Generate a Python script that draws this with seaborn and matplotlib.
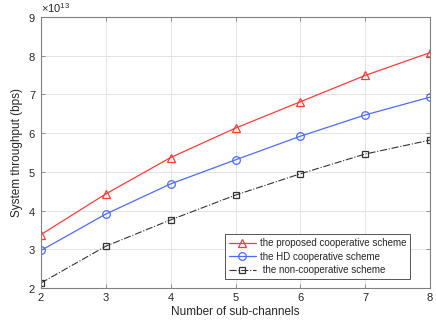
import matplotlib
matplotlib.use("Agg")
import matplotlib.pyplot as plt
import seaborn as sns
import numpy as np
from matplotlib.ticker import ScalarFormatter

sns.set_style("whitegrid")
plt.rcParams['font.family'] = ['Liberation Sans', 'DejaVu Sans']
plt.rcParams['mathtext.fontset'] = 'custom'
plt.rcParams['mathtext.rm'] = 'Liberation Sans'

# Data
sub_channels = [2, 3, 4, 5, 6, 7, 8]
proposed = [3.38e13, 4.43e13, 5.37e13, 6.13e13, 6.81e13, 7.49e13, 8.08e13]
hd_coop = [2.97e13, 3.91e13, 4.69e13, 5.31e13, 5.92e13, 6.47e13, 6.93e13]
non_coop = [2.13e13, 3.08e13, 3.76e13, 4.40e13, 4.95e13, 5.46e13, 5.82e13]

labels = ['the proposed cooperative scheme',
          'the HD cooperative scheme',
          ' the non-cooperative scheme']

fig = plt.figure(figsize=(4.36, 3.23), dpi=100)
ax = fig.add_axes([41 / 436, 1 - 288 / 323, (430 - 41) / 436, (288 - 17) / 323])

sns.lineplot(x=sub_channels, y=proposed, ax=ax, color='#ff3b3b', linewidth=0.9,
             marker='^', markersize=5.5, markerfacecolor='none',
             markeredgecolor='#ff3b3b', markeredgewidth=0.9, label=labels[0])
sns.lineplot(x=sub_channels, y=hd_coop, ax=ax, color='#4d6bff', linewidth=0.9,
             marker='o', markersize=5.5, markerfacecolor='none',
             markeredgecolor='#4d6bff', markeredgewidth=0.9, label=labels[1])
sns.lineplot(x=sub_channels, y=non_coop, ax=ax, color='#333333', linewidth=0.8,
             linestyle='-.', marker='s', markersize=4.5, markerfacecolor='none',
             markeredgecolor='#333333', markeredgewidth=0.9, label=labels[2])

ax.set_xlim(2, 8)
ax.set_ylim(2e13, 9e13)
ax.set_xticks(sub_channels)
ax.set_yticks(np.arange(2, 10) * 1e13)

fmt = ScalarFormatter(useMathText=True)
fmt.set_powerlimits((0, 0))
ax.yaxis.set_major_formatter(fmt)
ax.yaxis.get_offset_text().set_fontsize(8)
ax.yaxis.get_offset_text().set_color('#333333')

ax.grid(True, color='#e3e3e3', linewidth=0.7)
for s in ax.spines.values():
    s.set_color('#808080')
    s.set_linewidth(0.8)
ax.tick_params(direction='in', length=3, width=0.6, colors='#808080',
               labelcolor='#262626', labelsize=8, top=True, right=True,
               bottom=True, left=True)

ax.set_xlabel('Number of sub-channels', fontsize=8.5, color='#262626', labelpad=2)
ax.set_ylabel('System throughput (bps)', fontsize=8.5, color='#262626', labelpad=4)

leg = ax.legend(loc='lower right', bbox_to_anchor=(0.949, 0.033), fontsize=7,
                frameon=True, fancybox=False, framealpha=1, edgecolor='#555555',
                handlelength=2.8, borderpad=0.4, labelspacing=0.35,
                handletextpad=0.4, borderaxespad=0)
leg.get_frame().set_linewidth(0.7)

fig.savefig('out.png', dpi=100)
